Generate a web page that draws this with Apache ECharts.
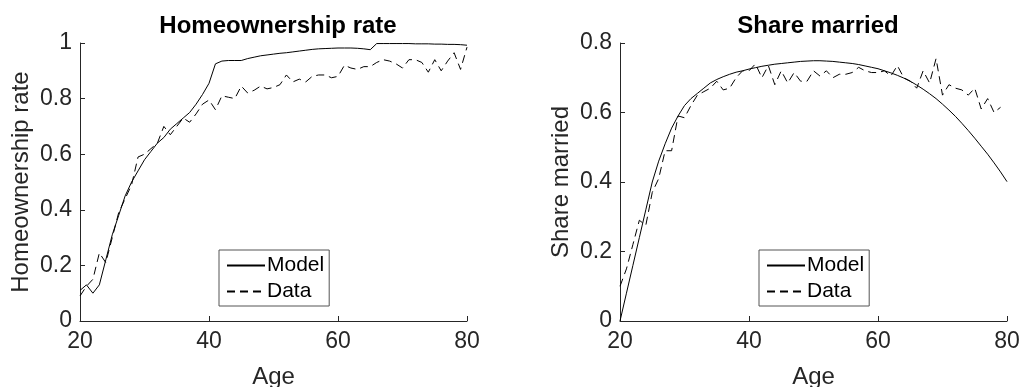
<!DOCTYPE html>
<html>
<head>
<meta charset="utf-8">
<script src="https://cdn.jsdelivr.net/npm/echarts@6/dist/echarts.min.js"></script>
<style>
  html, body { margin: 0; padding: 0; background: #fff; }
  #chart { width: 1023px; height: 387px; }
</style>
</head>
<body>
<div id="chart"></div>
<script>
// ages on the x axis
const ages = [20, 21, 22, 23, 24, 25, 26, 27, 28, 29, 30, 31, 32, 33, 34, 35, 36, 37, 38, 39,
  40, 41, 42, 43, 44, 45, 46, 47, 48, 49, 50, 51, 52, 53, 54, 55, 56, 57, 58, 59,
  60, 61, 62, 63, 64, 65, 66, 67, 68, 69, 70, 71, 72, 73, 74, 75, 76, 77, 78, 79, 80];

// homeownership rate
const homeModel = [0.11, 0.13, 0.10, 0.13, 0.22, 0.31, 0.38, 0.45, 0.50, 0.54,
  0.58, 0.61, 0.64, 0.66, 0.69, 0.71, 0.73, 0.75, 0.78, 0.815,
  0.855, 0.925, 0.935, 0.937, 0.937, 0.937, 0.944, 0.949, 0.954, 0.957,
  0.960, 0.963, 0.965, 0.968, 0.971, 0.974, 0.977, 0.979, 0.980, 0.981,
  0.982, 0.982, 0.982, 0.981, 0.979, 0.976, 0.998, 0.998, 0.998, 0.998,
  0.998, 0.998, 0.997, 0.997, 0.997, 0.996, 0.996, 0.995, 0.995, 0.994, 0.992];
const homeData = [0.09, 0.125, 0.15, 0.245, 0.21, 0.30, 0.39, 0.44, 0.49, 0.59,
  0.60, 0.62, 0.64, 0.70, 0.67, 0.70, 0.73, 0.715, 0.745, 0.78,
  0.795, 0.76, 0.81, 0.805, 0.80, 0.845, 0.82, 0.83, 0.845, 0.835,
  0.84, 0.85, 0.885, 0.86, 0.87, 0.86, 0.88, 0.885, 0.885, 0.875,
  0.88, 0.92, 0.91, 0.905, 0.915, 0.915, 0.93, 0.94, 0.935, 0.925,
  0.91, 0.94, 0.94, 0.93, 0.895, 0.94, 0.90, 0.935, 0.965, 0.905, 0.985];

// share married
const marriedModel = [0, 0.08, 0.16, 0.24, 0.32, 0.40, 0.46, 0.51, 0.555, 0.59,
  0.62, 0.64, 0.655, 0.67, 0.685, 0.695, 0.703, 0.71, 0.716, 0.72,
  0.725, 0.729, 0.733, 0.736, 0.739, 0.741, 0.743, 0.745, 0.747, 0.748,
  0.749, 0.749, 0.748, 0.747, 0.745, 0.743, 0.741, 0.738, 0.734, 0.73,
  0.726, 0.72, 0.714, 0.707, 0.699, 0.69, 0.679, 0.667, 0.654, 0.64,
  0.624, 0.607, 0.589, 0.569, 0.548, 0.526, 0.503, 0.48, 0.455, 0.429, 0.401];
const marriedData = [0.10, 0.15, 0.22, 0.29, 0.275, 0.37, 0.41, 0.49, 0.49, 0.59,
  0.585, 0.62, 0.65, 0.66, 0.67, 0.69, 0.665, 0.67, 0.70, 0.72,
  0.72, 0.74, 0.70, 0.735, 0.68, 0.72, 0.685, 0.715, 0.69, 0.69,
  0.72, 0.705, 0.72, 0.70, 0.71, 0.71, 0.715, 0.73, 0.72, 0.715,
  0.715, 0.72, 0.705, 0.735, 0.70, 0.69, 0.67, 0.72, 0.685, 0.755,
  0.65, 0.68, 0.67, 0.665, 0.65, 0.67, 0.61, 0.64, 0.60, 0.615, null];

const titles = ['Homeownership rate', 'Share married'];
const yNames = ['Homeownership rate', 'Share married'];
const yMax = [1, 0.8];

const axisColor = '#262626';
const font = 'Liberation Sans, Arial, sans-serif';

function pairs(ys) {
  return ages.map((a, i) => [a, ys[i]]);
}

function xAxisFor(idx) {
  return {
    type: 'value', gridIndex: idx, min: 20, max: 80, interval: 20,
    name: 'Age', nameLocation: 'middle', nameGap: 44,
    nameTextStyle: { fontSize: 24, color: axisColor, fontFamily: font },
    axisLine: { show: true, onZero: false, lineStyle: { color: axisColor, width: 1 } },
    axisTick: { show: true, inside: true, length: 5, lineStyle: { color: axisColor } },
    axisLabel: { fontSize: 23, color: axisColor, fontFamily: font, margin: 9 },
    splitLine: { show: false }
  };
}

function yAxisFor(idx) {
  return {
    type: 'value', gridIndex: idx, min: 0, max: yMax[idx], interval: 0.2,
    name: yNames[idx], nameLocation: 'middle', nameGap: 47, nameRotate: 90,
    nameTextStyle: { fontSize: 24, color: axisColor, fontFamily: font },
    axisLine: { show: true, onZero: false, lineStyle: { color: axisColor, width: 1 } },
    axisTick: { show: true, inside: true, length: 5, lineStyle: { color: axisColor } },
    axisLabel: { fontSize: 23, color: axisColor, fontFamily: font, margin: 8 },
    splitLine: { show: false }
  };
}

function lineSeries(name, idx, ys, dashed) {
  return {
    name: name, type: 'line', xAxisIndex: idx, yAxisIndex: idx,
    data: pairs(ys), symbol: 'none', showSymbol: false,
    connectNulls: false, animation: false,
    lineStyle: { color: '#000', width: 1, type: dashed ? [8, 5] : 'solid' },
    itemStyle: { color: '#000' }
  };
}

function legendFor(left) {
  return {
    left: left, top: 250, orient: 'vertical',
    data: ['Model', 'Data'],
    itemWidth: 38, itemHeight: 14, itemGap: 5,
    padding: [5, 5, 4, 7],
    borderColor: '#555', borderWidth: 1, borderRadius: 0,
    backgroundColor: '#fff',
    itemStyle: { color: 'transparent', borderWidth: 0, opacity: 0 },
    textStyle: { fontSize: 21, color: '#000', fontFamily: font, padding: [0, 0, 0, -3] },
    selectedMode: false
  };
}

const chart = echarts.init(document.getElementById('chart'), null, { renderer: 'canvas' });
chart.setOption({
  animation: false,
  backgroundColor: '#fff',
  title: [
    { text: titles[0], left: 273, textAlign: 'center', top: 9,
      textStyle: { fontSize: 24, fontWeight: 'bold', color: '#000', fontFamily: font } },
    { text: titles[1], left: 813, textAlign: 'center', top: 9,
      textStyle: { fontSize: 24, fontWeight: 'bold', color: '#000', fontFamily: font } }
  ],
  grid: [
    { left: 80, top: 43, width: 387, height: 278, outerBoundsMode: 'none' },
    { left: 620, top: 43, width: 387, height: 278, outerBoundsMode: 'none' }
  ],
  legend: [legendFor(219), legendFor(759)],
  xAxis: [xAxisFor(0), xAxisFor(1)],
  yAxis: [yAxisFor(0), yAxisFor(1)],
  series: [
    lineSeries('Model', 0, homeModel, false),
    lineSeries('Data', 0, homeData, true),
    lineSeries('Model', 1, marriedModel, false),
    lineSeries('Data', 1, marriedData, true)
  ]
});
</script>
</body>
</html>
